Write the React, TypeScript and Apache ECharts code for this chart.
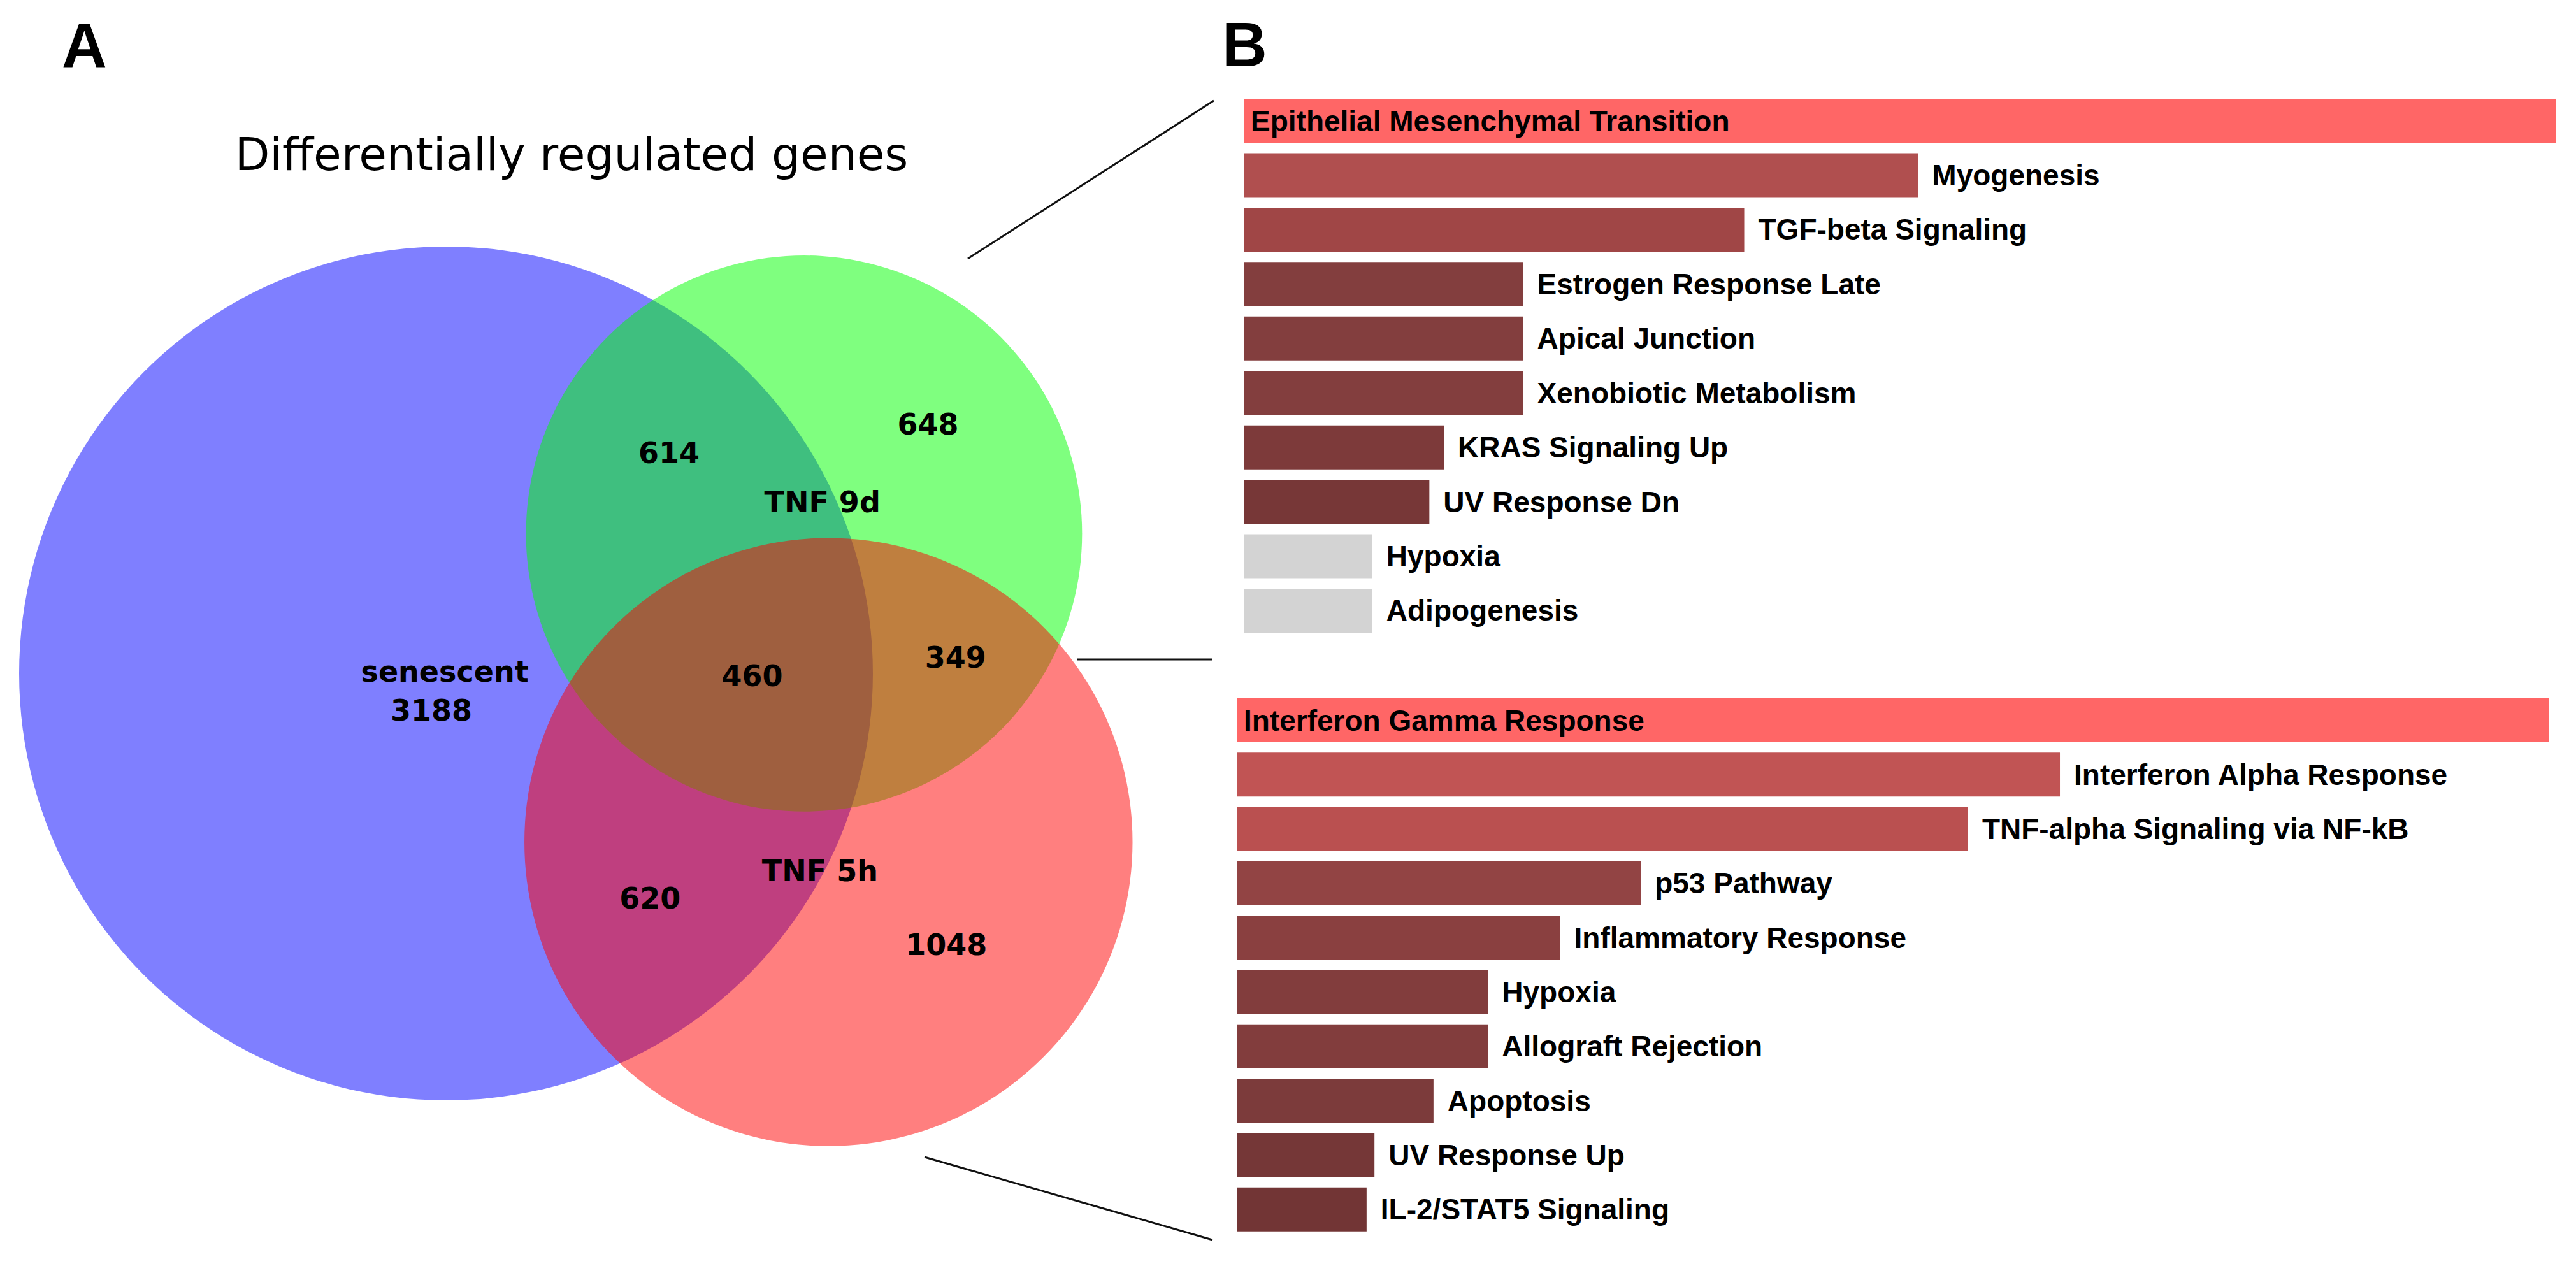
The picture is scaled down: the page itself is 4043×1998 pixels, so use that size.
import React, { useEffect, useRef } from "react";
import * as echarts from "echarts";

// ---------- Panel texts ----------
const panelLetters = ["A", "B"];
const vennTitle = "Differentially regulated genes";

// ---------- Venn data ----------
const setNames = ["senescent", "TNF 9d", "TNF 5h"];
const setColors = ["rgba(0,0,255,0.5)", "rgba(0,255,0,0.5)", "rgba(255,0,0,0.5)"];
// layout of the area-proportional Venn (units of sqrt(gene count))
const setCenters = [
  [0, 0],
  [58.6, -22.9],
  [62.6, 27.6],
];
const setLabelPos = [
  [-0.2, -0.3],
  [61.6, -28.1],
  [61.2, 32.3],
];
// region counts and which sets each region belongs to
const regionCounts = [3188, 614, 648, 460, 349, 620, 1048];
const regionMembers = [[0], [0, 1], [1], [0, 1, 2], [1, 2], [0, 2], [2]];
const regionLabelPos = [
  [-2.4, 6.0],
  [36.5, -36.1],
  [78.9, -40.8],
  [50.1, 0.4],
  [83.4, -2.6],
  [33.4, 36.8],
  [81.9, 44.4],
];

// ---------- Enrichment bars: top (TNF 9d link) ----------
const topTerms = [
  "Epithelial Mesenchymal Transition",
  "Myogenesis",
  "TGF-beta Signaling",
  "Estrogen Response Late",
  "Apical Junction",
  "Xenobiotic Metabolism",
  "KRAS Signaling Up",
  "UV Response Dn",
  "Hypoxia",
  "Adipogenesis",
];
const topScores = [20, 10.28, 7.63, 4.26, 4.26, 4.26, 3.05, 2.83, 1.96, 1.96];
const topColors = [
  "#FF6666", "#B04F4F", "#A04646", "#833E3E", "#833E3E",
  "#833E3E", "#7D3A3A", "#773737", "#D3D3D3", "#D3D3D3",
];

// ---------- Enrichment bars: bottom (TNF 5h link) ----------
const bottomTerms = [
  "Interferon Gamma Response",
  "Interferon Alpha Response",
  "TNF-alpha Signaling via NF-kB",
  "p53 Pathway",
  "Inflammatory Response",
  "Hypoxia",
  "Allograft Rejection",
  "Apoptosis",
  "UV Response Up",
  "IL-2/STAT5 Signaling",
];
const bottomScores = [20, 12.55, 11.15, 6.16, 4.93, 3.83, 3.83, 3.0, 2.1, 1.98];
const bottomColors = [
  "#FF6666", "#C15454", "#BA5050", "#924444", "#8A4040",
  "#823D3D", "#823D3D", "#7C3B3B", "#753737", "#723535",
];

const W = 4043;
const H = 1998;

const barLabelFont = {
  color: "#000",
  fontFamily: "Liberation Sans, Arial, sans-serif",
  fontWeight: "bold" as const,
  fontSize: 46,
};

function barData(scores: number[], colors: string[]) {
  return scores.map((v, i) => ({
    value: v,
    itemStyle: { color: colors[i] },
    label:
      i === 0
        ? { position: "insideLeft", distance: 11 }
        : { position: "right", distance: 22 },
  }));
}

export default function App() {
  const ref = useRef<HTMLDivElement>(null);

  useEffect(() => {
    if (!ref.current) return;
    const chart = echarts.init(ref.current, undefined, { renderer: "svg" });

    const setTotals = setNames.map((_, s) =>
      regionCounts.reduce(
        (acc, c, r) => (regionMembers[r].includes(s) ? acc + c : acc),
        0
      )
    );

    const vennTextStyle = {
      fill: "#000",
      fontFamily: "DejaVu Sans, Verdana, sans-serif",
      fontWeight: "bold",
      fontSize: 46,
      align: "center",
      verticalAlign: "middle",
      textAlign: "center",
      textVerticalAlign: "middle",
    };

    const option: any = {
      animation: false,
      backgroundColor: "#fff",
      grid: [
        { left: 28.77, top: 289.9, width: 1917.8, height: 1630.1 },
        { left: 1952, top: 146.8, width: 2059, height: 854.4 },
        { left: 1941, top: 1087.9, width: 2059, height: 853 },
      ],
      xAxis: [
        { type: "value", gridIndex: 0, min: -70, max: 130, show: false },
        {
          type: "value", gridIndex: 1, min: 0, max: "dataMax", show: false,
          splitLine: { show: false },
        },
        {
          type: "value", gridIndex: 2, min: 0, max: "dataMax", show: false,
          splitLine: { show: false },
        },
      ],
      yAxis: [
        { type: "value", gridIndex: 0, min: -80, max: 90, inverse: true, show: false },
        {
          type: "category", gridIndex: 1, data: topTerms, inverse: true, show: false,
        },
        {
          type: "category", gridIndex: 2, data: bottomTerms, inverse: true, show: false,
        },
      ],
      series: [
        {
          type: "custom",
          name: "sets",
          xAxisIndex: 0,
          yAxisIndex: 0,
          silent: true,
          data: setCenters.map((c, i) => [c[0], c[1], Math.sqrt(setTotals[i]), i]),
          renderItem: (_p: any, api: any) => {
            const p = api.coord([api.value(0), api.value(1)]);
            const s = api.size([api.value(2), api.value(2)]);
            return {
              type: "circle",
              shape: { cx: p[0], cy: p[1], r: s[0] },
              style: { fill: setColors[api.value(3)] },
            };
          },
        },
        {
          type: "custom",
          name: "regions",
          xAxisIndex: 0,
          yAxisIndex: 0,
          silent: true,
          z: 5,
          data: regionLabelPos.map((c, i) => [c[0], c[1], i]),
          renderItem: (_p: any, api: any) => {
            const p = api.coord([api.value(0), api.value(1)]);
            return {
              type: "text",
              x: p[0],
              y: p[1],
              style: { ...vennTextStyle, text: String(regionCounts[api.value(2)]) },
            };
          },
        },
        {
          type: "custom",
          name: "setLabels",
          xAxisIndex: 0,
          yAxisIndex: 0,
          silent: true,
          z: 5,
          data: setLabelPos.map((c, i) => [c[0], c[1], i]),
          renderItem: (_p: any, api: any) => {
            const p = api.coord([api.value(0), api.value(1)]);
            return {
              type: "text",
              x: p[0],
              y: p[1],
              style: { ...vennTextStyle, text: setNames[api.value(2)] },
            };
          },
        },
        {
          type: "bar",
          xAxisIndex: 1,
          yAxisIndex: 1,
          barWidth: 69,
          silent: true,
          label: { show: true, formatter: "{b}", ...barLabelFont },
          data: barData(topScores, topColors),
        },
        {
          type: "bar",
          xAxisIndex: 2,
          yAxisIndex: 2,
          barWidth: 69,
          silent: true,
          label: { show: true, formatter: "{b}", ...barLabelFont },
          data: barData(bottomScores, bottomColors),
        },
      ],
      graphic: [
        {
          type: "text",
          x: 97,
          y: 71,
          style: {
            text: panelLetters[0],
            fill: "#000",
            fontFamily: "Liberation Sans, Arial, sans-serif",
            fontWeight: "bold",
            fontSize: 98,
            align: "left",
            verticalAlign: "middle",
            textAlign: "left",
            textVerticalAlign: "middle",
          },
        },
        {
          type: "text",
          x: 1918,
          y: 70,
          style: {
            text: panelLetters[1],
            fill: "#000",
            fontFamily: "Liberation Sans, Arial, sans-serif",
            fontWeight: "bold",
            fontSize: 98,
            align: "left",
            verticalAlign: "middle",
            textAlign: "left",
            textVerticalAlign: "middle",
          },
        },
        {
          type: "text",
          x: 897,
          y: 242,
          style: {
            text: vennTitle,
            fill: "#000",
            fontFamily: "DejaVu Sans, Verdana, sans-serif",
            fontWeight: "normal",
            fontSize: 71,
            align: "center",
            verticalAlign: "middle",
            textAlign: "center",
            textVerticalAlign: "middle",
          },
        },
        {
          type: "line",
          shape: { x1: 1519, y1: 406, x2: 1905, y2: 158 },
          style: { stroke: "#111", lineWidth: 3 },
        },
        {
          type: "line",
          shape: { x1: 1691, y1: 1035, x2: 1903, y2: 1035 },
          style: { stroke: "#111", lineWidth: 3 },
        },
        {
          type: "line",
          shape: { x1: 1451, y1: 1816, x2: 1903, y2: 1946 },
          style: { stroke: "#111", lineWidth: 3 },
        },
      ],
    };

    chart.setOption(option);
    return () => chart.dispose();
  }, []);

  return (
    <div
      ref={ref}
      style={{
        position: "absolute",
        left: 0,
        top: 0,
        width: W,
        height: H,
        background: "#fff",
      }}
    />
  );
}
